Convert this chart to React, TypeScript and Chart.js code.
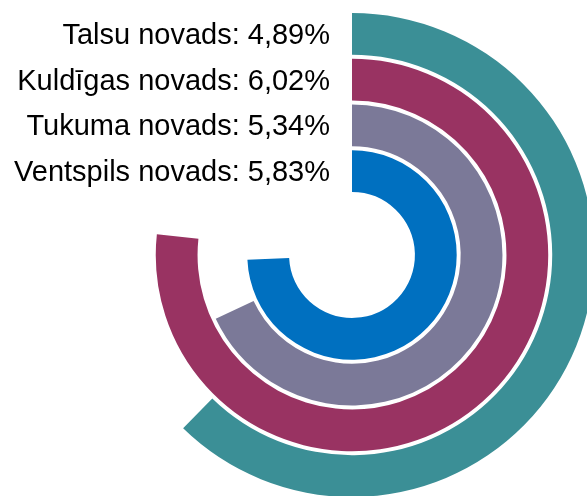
import React, { useEffect, useRef } from "react";
import { Chart, registerables } from "chart.js";

Chart.register(...registerables);

const categories = ["Talsu novads", "Kuldīgas novads", "Tukuma novads", "Ventspils novads"];
const values = [4.89, 6.02, 5.34, 5.83];
const valueLabels = ["4,89%", "6,02%", "5,34%", "5,83%"];
const scaleTotal = 7.85;
const colors = ["#3B8F96", "#993362", "#7B7998", "#0070C0"];

export default function App() {
  const ref = useRef<HTMLCanvasElement>(null);
  useEffect(() => {
    if (!ref.current) return;
    const datasets: any[] = [];
    values.forEach((v, i) => {
      if (i > 0) {
        datasets.push({
          data: [1],
          backgroundColor: ["rgba(0,0,0,0)"],
          borderWidth: 0,
          weight: 4,
          isSpacer: true,
        });
      }
      datasets.push({
        label: categories[i],
        data: [v, scaleTotal - v],
        backgroundColor: [colors[i], "rgba(0,0,0,0)"],
        borderWidth: 0,
        weight: 42,
        ringIndex: i,
      });
    });

    const labelPlugin = {
      id: "ringLabels",
      afterDraw(chart: any) {
        const ctx = chart.ctx;
        ctx.save();
        ctx.font = "29px 'Liberation Sans', Arial, sans-serif";
        ctx.fillStyle = "#000";
        ctx.textAlign = "right";
        ctx.textBaseline = "alphabetic";
        chart.data.datasets.forEach((ds: any, di: number) => {
          if (ds.ringIndex === undefined) return;
          const meta = chart.getDatasetMeta(di);
          const arc = meta.data[0] as any;
          const mid = (arc.innerRadius + arc.outerRadius) / 2;
          const x = arc.x - 22;
          const y = arc.y - mid + 10;
          ctx.fillText(`${categories[ds.ringIndex]}: ${valueLabels[ds.ringIndex]}`, x, y);
        });
        ctx.restore();
      },
    };

    const chart = new Chart(ref.current, {
      type: "doughnut",
      data: { labels: ["value", "rest"], datasets },
      options: {
        responsive: false,
        animation: false,
        events: [],
        cutout: "26%",
        layout: { padding: { left: 110, top: 13, right: 26, bottom: 23 } },
        plugins: { legend: { display: false }, tooltip: { enabled: false } },
      } as any,
      plugins: [labelPlugin],
    });
    return () => chart.destroy();
  }, []);

  return (
    <div
      style={{
        position: "fixed",
        left: 0,
        top: 0,
        width: 587,
        height: 496,
        overflow: "hidden",
        background: "#fff",
      }}
    >
      <canvas ref={ref} width={620} height={520} style={{ width: 620, height: 520, display: "block" }} />
    </div>
  );
}
